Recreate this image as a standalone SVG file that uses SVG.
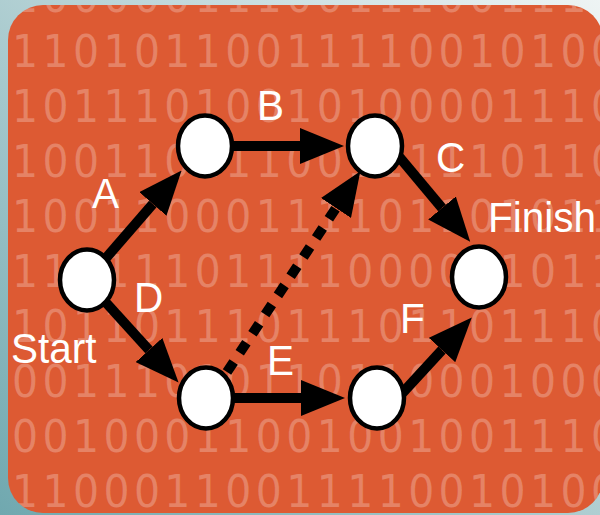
<svg xmlns="http://www.w3.org/2000/svg" width="600" height="515" viewBox="0 0 600 515">
  <defs>
    <linearGradient id="frame" x1="0" y1="1" x2="1" y2="0">
      <stop offset="0" stop-color="#70a8af"/>
      <stop offset="1" stop-color="#eef4f4"/>
    </linearGradient>
    <clipPath id="card">
      <rect x="8" y="5" width="595" height="508" rx="35" ry="35"/>
    </clipPath>
    <marker id="head" viewBox="0 0 44 36" refX="0" refY="18" markerWidth="44" markerHeight="36" markerUnits="userSpaceOnUse" orient="auto">
      <path d="M0,0 L44,18 L0,36 Z" fill="#000"/>
    </marker>
    <style>
      .bits text { font-family: "DejaVu Sans", sans-serif; font-size: 41px; letter-spacing: 4.4px; fill: #fff; fill-opacity: 0.25; }
      .edge { fill: none; stroke: #000; stroke-width: 10; marker-end: url(#head); }
      .dotted { stroke-dasharray: 12 11; }
      .node ellipse { fill: #fff; stroke: #000; stroke-width: 4.5; }
      .label { font-family: "Liberation Sans", Arial, sans-serif; font-size: 40.5px; fill: #fff; }
    </style>
  </defs>

  <!-- frame and card -->
  <rect x="0" y="0" width="600" height="515" fill="url(#frame)"/>
  <rect x="8" y="5" width="595" height="508" rx="35" ry="35" fill="#dd5a33"/>

  <!-- binary backdrop -->
  <g clip-path="url(#card)">
    <g class="bits" transform="scale(1,1.1)">
      <text x="12" y="10.9">10000011100111001110</text>
      <text x="12" y="60.9">11010110011110010100</text>
      <text x="12" y="110.9">10111010010100001110</text>
      <text x="12" y="160.9">10011011100111110110</text>
      <text x="12" y="210.9">10011000111101101011</text>
      <text x="12" y="260.9">11011101111000001011</text>
      <text x="12" y="310.9">10110111011101101110</text>
      <text x="12" y="360.9">00111010110110001000</text>
      <text x="12" y="410.9">00100011001001001110</text>
      <text x="12" y="460.9">11000110011110010100</text>
    </g>
  </g>

  <!-- connectors -->
  <g id="connectors">
    <line id="edge-A" class="edge" x1="87" y1="280" x2="152.8" y2="203.9"/>
    <line id="edge-B" class="edge" x1="205" y1="146" x2="300" y2="146"/>
    <line id="edge-C" class="edge" x1="396" y1="153" x2="442" y2="208"/>
    <line id="edge-D" class="edge" x1="90" y1="285" x2="149" y2="350"/>
    <line id="edge-E" class="edge" x1="206" y1="398" x2="301" y2="398"/>
    <line id="edge-F" class="edge" x1="396" y1="400" x2="442" y2="350"/>
    <line id="edge-dummy" class="edge dotted" x1="227" y1="372" x2="336" y2="208"/>
  </g>

  <!-- events -->
  <g id="node-start" class="node"><ellipse cx="87" cy="280" rx="27" ry="30.5"/></g>
  <g id="node-1" class="node"><ellipse cx="205" cy="146" rx="27" ry="30.5"/></g>
  <g id="node-2" class="node"><ellipse cx="375" cy="146" rx="27" ry="30.5"/></g>
  <g id="node-finish" class="node"><ellipse cx="479" cy="277" rx="27" ry="30.5"/></g>
  <g id="node-3" class="node"><ellipse cx="206" cy="398" rx="27" ry="30.5"/></g>
  <g id="node-4" class="node"><ellipse cx="377" cy="398" rx="27" ry="30.5"/></g>

  <!-- labels -->
  <g id="labels">
    <text class="label" transform="translate(92,208) scale(1,1.06)">A</text>
    <text class="label" transform="translate(257,120) scale(1,1.06)">B</text>
    <text class="label" transform="translate(436,172) scale(1,1.06)">C</text>
    <text class="label" transform="translate(134,312) scale(1,1.06)">D</text>
    <text class="label" transform="translate(267,375) scale(1,1.06)">E</text>
    <text class="label" transform="translate(400,333) scale(1,1.06)">F</text>
    <text class="label" transform="translate(488,232) scale(1,1.06)">Finish</text>
    <text class="label" transform="translate(11,363) scale(1,1.06)">Start</text>
  </g>
</svg>
